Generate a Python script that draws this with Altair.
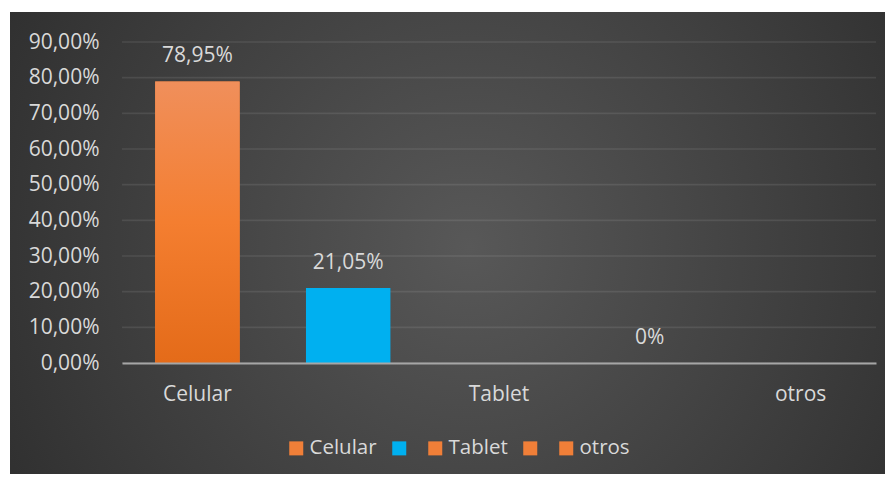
import altair as alt

# ---- data ----
series = ["Celular", " ", "Tablet", "  ", "otros"]
values = [78.95, 21.05, None, 0.0, None]
colors = ["#F07F38", "#00B0F0", "#F07F38", "#F07F38", "#F07F38"]
y_ticks = [0, 10, 20, 30, 40, 50, 60, 70, 80, 90]

W, H = 754, 321
FONT = "Open Sans"
FS = 21
TXT = "#d9d9d9"

rows = [{"series": s, "value": v} for s, v in zip(series, values)]
data = alt.Data(values=rows)

yscale = alt.Scale(domain=[0, 90])
xscale = alt.Scale(domain=series, paddingInner=0.44, paddingOuter=0.22)

yaxis = alt.Axis(title=None, values=y_ticks, grid=False, domain=False, ticks=False,
                 labelExpr="replace(format(datum.value, '.2f'), '.', ',') + '%'",
                 labelColor=TXT, labelFont=FONT, labelFontSize=FS, labelPadding=23,
                 zindex=1)

bg = alt.Chart(alt.Data(values=[{"k": 1}])).mark_rect(
    fill=alt.Gradient(
        gradient="radial",
        stops=[alt.GradientStop(offset=0, color="#585858"),
               alt.GradientStop(offset=1, color="#252525")],
        x1=0.52, y1=0.5, r1=0, x2=0.52, y2=0.5, r2=0.75,
    )
).encode(x=alt.value(-112), x2=alt.value(W + 17), y=alt.value(-30), y2=alt.value(H + 119))

grid = alt.Chart(alt.Data(values=[{"value": t} for t in y_ticks])).mark_rule(
    color="#ffffff", opacity=0.09, strokeWidth=1.6
).encode(
    y=alt.Y("value:Q", scale=yscale, axis=yaxis),
    x=alt.value(0), x2=alt.value(W),
)

xenc = alt.X(
    "series:N", scale=xscale, sort=None,
    axis=alt.Axis(title=None, labelAngle=0, ticks=False, domainColor="#a6a6a6",
                  domainWidth=2, labelColor=TXT, labelFont=FONT, labelFontSize=FS,
                  labelPadding=20, zindex=1),
)
yenc = alt.Y("value:Q", scale=yscale, axis=yaxis)

bars = alt.Chart(data).mark_bar().encode(
    x=xenc, y=yenc,
    color=alt.Color(
        "series:N",
        scale=alt.Scale(domain=series, range=colors),
        legend=alt.Legend(
            title=None, orient="none", direction="horizontal", legendX=164, legendY=396,
            symbolType="square", symbolSize=196, symbolStrokeWidth=0, symbolOpacity=1,
            labelColor=TXT, labelFont=FONT, labelFontSize=20.5, labelOffset=3,
            columnPadding=12, zindex=1,
        ),
    ),
)

grad_bar = alt.Chart(data).transform_filter("datum.series == 'Celular'").mark_bar(
    fill=alt.Gradient(
        gradient="linear",
        stops=[alt.GradientStop(offset=0, color="#F08F5B"),
               alt.GradientStop(offset=0.5, color="#F47E30"),
               alt.GradientStop(offset=1, color="#E46B19")],
        x1=0, x2=0, y1=0, y2=1,
    )
).encode(x=alt.X("series:N", scale=xscale, sort=None), y=alt.Y("value:Q", scale=yscale, axis=yaxis))

labels = alt.Chart(data).transform_filter("isValid(datum.value)").transform_calculate(
    lab="datum.value == 0 ? '0%' : replace(format(datum.value, '.2f'), '.', ',') + '%'"
).mark_text(baseline="middle", dy=-25, font=FONT, fontSize=FS, color=TXT).encode(
    x=alt.X("series:N", scale=xscale, sort=None),
    y=alt.Y("value:Q", scale=yscale, axis=yaxis),
    text="lab:N",
)

chart = alt.layer(bg, grid, bars, grad_bar, labels).properties(
    width=W, height=H,
    padding={"left": 114, "top": 34, "right": 9, "bottom": 111},
    autosize=alt.AutoSizeParams(type="none"),
    background="#ffffff",
).configure_view(stroke=None)

chart.save("out.html", embed_options={"renderer": "svg", "actions": False})
